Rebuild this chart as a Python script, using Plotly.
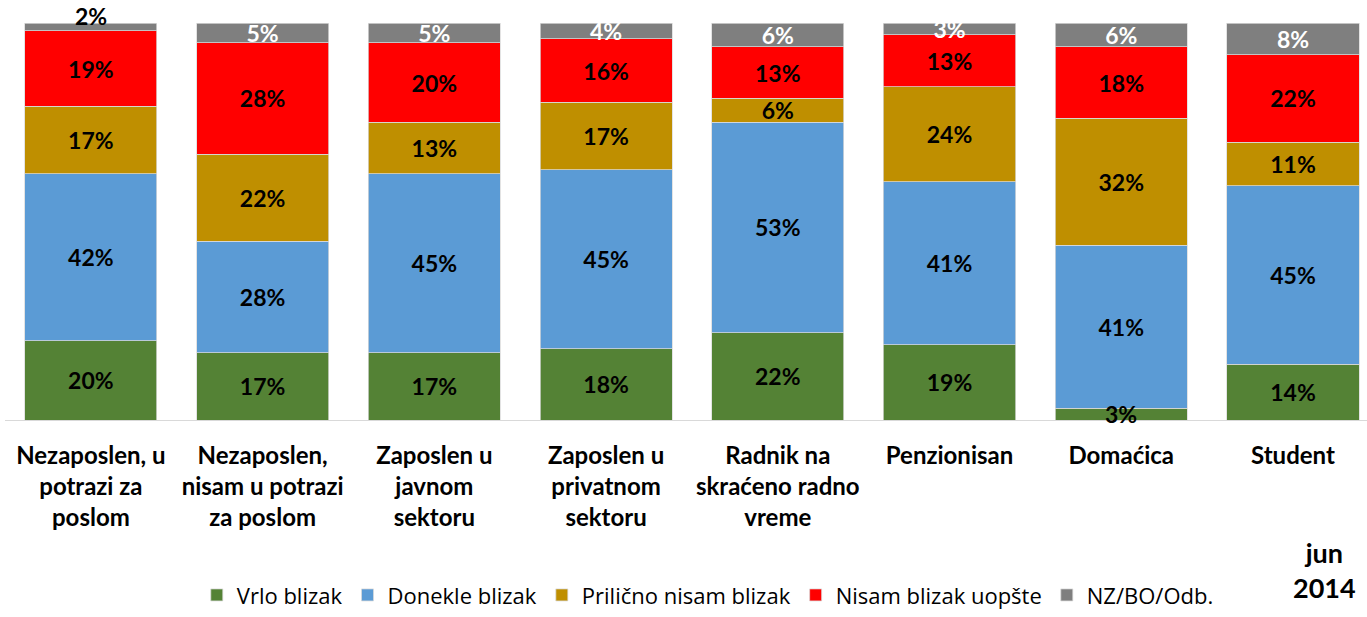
import plotly.graph_objects as go

categories = ["Nezaposlen, u potrazi za poslom", "Nezaposlen, nisam u potrazi za poslom",
              "Zaposlen u javnom sektoru", "Zaposlen u privatnom sektoru",
              "Radnik na skraćeno radno vreme", "Penzionisan", "Domaćica", "Student"]
tick_labels = ["Nezaposlen, u<br>potrazi za<br>poslom", "Nezaposlen,<br>nisam u potrazi<br>za poslom",
               "Zaposlen u<br>javnom<br>sektoru", "Zaposlen u<br>privatnom<br>sektoru",
               "Radnik na<br>skraćeno radno<br>vreme", "Penzionisan", "Domaćica", "Student"]

vrlo_blizak = [20, 17, 17, 18, 22, 19, 3, 14]
donekle_blizak = [42, 28, 45, 45, 53, 41, 41, 45]
prilicno_nisam = [17, 22, 13, 17, 6, 24, 32, 11]
nisam_uopste = [19, 28, 20, 16, 13, 13, 18, 22]
nz_bo_odb = [2, 5, 5, 4, 6, 3, 6, 8]

series = [
    ("Vrlo blizak", vrlo_blizak, "#548235", "black"),
    ("Donekle blizak", donekle_blizak, "#5B9BD5", "black"),
    ("Prilično nisam blizak", prilicno_nisam, "#BF8F00", "black"),
    ("Nisam blizak uopšte", nisam_uopste, "#FF0000", "black"),
    ("NZ/BO/Odb.", nz_bo_odb, "#7F7F7F", "white"),
]

FONT = "Lato"
LBL = dict(family=FONT, size=23, color="black")
fig = go.Figure()
for name, vals, color, tcolor in series:
    texts = [f"{v}%" for v in vals]
    if name == "NZ/BO/Odb.":
        texts[0] = ""
    if name == "Vrlo blizak":
        texts[6] = ""
    fig.add_trace(go.Bar(
        x=categories, y=vals, name=name,
        marker=dict(color=color, line=dict(color="#D9D9D9", width=0.75)),
        text=texts, textposition="inside", insidetextanchor="middle",
        textangle=0, constraintext="none", cliponaxis=False,
        textfont=dict(family=FONT, size=23, color=tcolor, weight="bold"),
        hoverinfo="skip",
    ))

# small labels that overflow their segments
fig.add_annotation(x=categories[0], y=100, text=f"<b>{nz_bo_odb[0]}%</b>",
                   showarrow=False, yanchor="middle", yshift=7, font=LBL)
fig.add_annotation(x=categories[6], y=vrlo_blizak[6] / 2, text=f"<b>{vrlo_blizak[6]}%</b>",
                   showarrow=False, yanchor="middle", font=LBL)

fig.add_annotation(xref="paper", yref="paper", x=0.9935, y=-0.378,
                   xanchor="right", yanchor="middle", align="center",
                   text="<b>jun<br>2014</b>", showarrow=False,
                   font=dict(family=FONT, size=27, color="black"))

fig.update_layout(
    barmode="stack", bargap=0.231,
    width=1367, height=617,
    margin=dict(l=5, r=0, t=23, b=197, autoexpand=False),
    plot_bgcolor="white", paper_bgcolor="white",
    font=dict(family=FONT, color="black"),
    xaxis=dict(range=[-0.5, 7.431], tickmode="array", tickvals=categories,
               ticktext=[f"<b>{t}</b>" for t in tick_labels],
               tickfont=dict(family=FONT, size=24, color="black"),
               showline=True, linecolor="#D9D9D9", linewidth=1, automargin=False,
               ticks="", ticklabelstandoff=14, showgrid=False, zeroline=False),
    yaxis=dict(range=[0, 100], visible=False, showgrid=False, zeroline=False, automargin=False),
    legend=dict(orientation="h", x=0.516, xanchor="center", y=-0.494, yanchor="bottom",
                font=dict(family="Open Sans", size=22, color="black"), traceorder="normal",
                itemwidth=30),
    showlegend=True,
)

fig.write_html("out.html", config={"displayModeBar": False},
               post_script="document.body.style.margin='0';document.body.style.overflow='hidden';")
